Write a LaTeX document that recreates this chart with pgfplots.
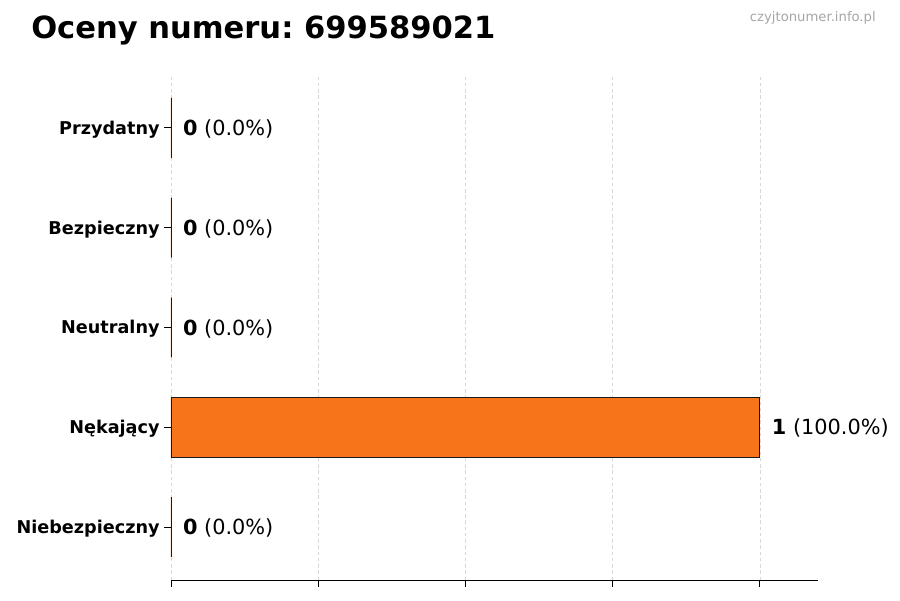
\documentclass[border=0pt]{standalone}
\usepackage{fontspec}
\setmainfont{DejaVu Sans}
\usepackage{pgfplots}
\pgfplotsset{compat=1.18}
\definecolor{barorange}{HTML}{F7741A}
\definecolor{gridgray}{HTML}{D8D8D8}
\tikzset{
    cat/.style={anchor=east, font=\fontsize{12.7}{15}\selectfont\bfseries, inner sep=0pt},
    val/.style={anchor=west, font=\fontsize{15}{17}\selectfont, inner sep=0pt},
}
\frenchspacing
\begin{document}
\begin{tikzpicture}
% page of 900 x 600 px, 1 px = 0.72pt
\path[use as bounding box] (0,0) rectangle (648pt,432pt);
\node[anchor=base west,font=\fontsize{22}{25}\selectfont\bfseries,inner sep=0pt] at (22.3pt,404pt) {Oceny numeru: 699589021};
\node[anchor=base east,font=\fontsize{9.5}{11}\selectfont,text=black!35,inner sep=0pt] at (630.7pt,416.2pt) {czyjtonumer.info.pl};
\begin{axis}[
    at={(123.1pt,14.4pt)}, anchor=south west,
    scale only axis,
    width=465.8pt, height=363.6pt,
    xmin=0, xmax=1.0985,
    ymin=-0.53, ymax=4.53,
    xbar, bar width=0.6,
    axis x line*=bottom, axis y line=none,
    xtick={0,0.25,0.5,0.75,1}, xticklabels={},
    tick align=outside,
    xmajorgrids=true,
    grid style={gridgray, dash pattern=on 2.5pt off 2pt, line width=0.5pt},
    major tick length=5pt,
    tick style={black, line width=0.6pt},
    x axis line style={-, line width=0.6pt},
    clip=false,
]
\addplot[fill=barorange, draw=black!90, line width=0.6pt]
    coordinates {(0,4) (0,3) (0,2) (1,1) (0,0)};
% y tick marks
\draw[black, line width=0.6pt] (axis cs:0,4) -- ++(-5pt,0pt);
\draw[black, line width=0.6pt] (axis cs:0,3) -- ++(-5pt,0pt);
\draw[black, line width=0.6pt] (axis cs:0,2) -- ++(-5pt,0pt);
\draw[black, line width=0.6pt] (axis cs:0,1) -- ++(-5pt,0pt);
\draw[black, line width=0.6pt] (axis cs:0,0) -- ++(-5pt,0pt);
% category names
\node[cat] at ([xshift=-8pt,yshift=-1.2pt]axis cs:0,4) {Przydatny};
\node[cat] at ([xshift=-8pt,yshift=-1.2pt]axis cs:0,3) {Bezpieczny};
\node[cat] at ([xshift=-8pt,yshift=-1.2pt]axis cs:0,2) {Neutralny};
\node[cat] at ([xshift=-8pt,yshift=-1.2pt]axis cs:0,1) {Nękający};
\node[cat] at ([xshift=-8pt,yshift=-1.2pt]axis cs:0,0) {Niebezpieczny};
% value labels
\node[val] at ([xshift=8.5pt,yshift=-0.7pt]axis cs:0,4) {\textbf{0} (0.0\%)};
\node[val] at ([xshift=8.5pt,yshift=-0.7pt]axis cs:0,3) {\textbf{0} (0.0\%)};
\node[val] at ([xshift=8.5pt,yshift=-0.7pt]axis cs:0,2) {\textbf{0} (0.0\%)};
\node[val] at ([xshift=8.5pt,yshift=-0.7pt]axis cs:1,1) {\textbf{1} (100.0\%)};
\node[val] at ([xshift=8.5pt,yshift=-0.7pt]axis cs:0,0) {\textbf{0} (0.0\%)};
\end{axis}
\end{tikzpicture}
\end{document}
